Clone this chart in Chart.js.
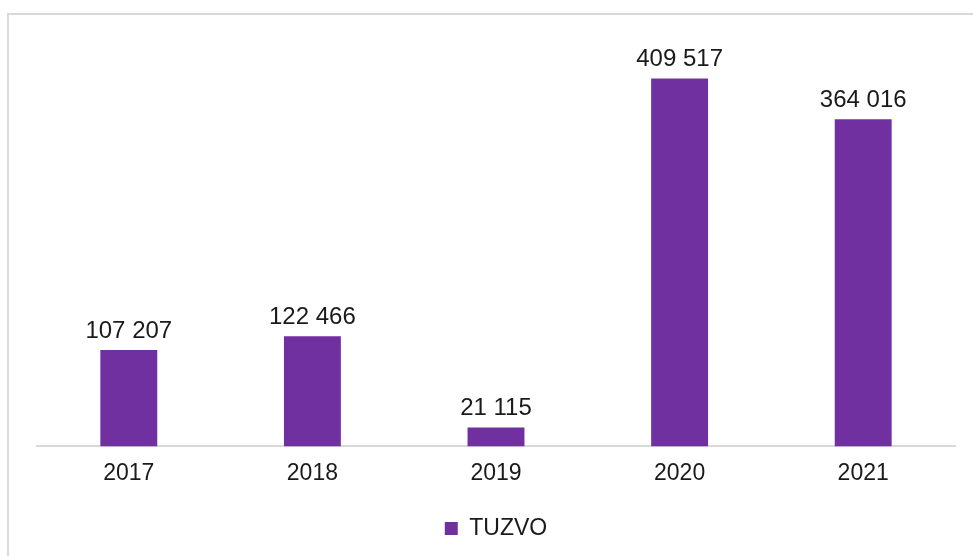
<!DOCTYPE html>
<html>
<head>
<meta charset="utf-8">
<script src="https://cdn.jsdelivr.net/npm/chart.js@4/dist/chart.umd.min.js"></script>
<style>
  html, body { margin: 0; padding: 0; background: #fff; overflow: hidden; }
  #frame { position: absolute; left: 7px; top: 13px; width: 1200px; height: 800px;
           border-left: 2px solid #d9d9d9; border-top: 2px solid #d9d9d9; }
  #wrap { position: absolute; left: 0; top: 0; width: 973px; height: 556px; }
</style>
</head>
<body>
<div id="frame"></div>
<div id="wrap"><canvas id="c" width="973" height="556"></canvas></div>
<script>
const categories = ["2017", "2018", "2019", "2020", "2021"];
const seriesName = "TUZVO";
const values = [107207, 122466, 21115, 409517, 364016];

function fmt(v) {
  return String(v).replace(/\B(?=(\d{3})+(?!\d))/g, " ");
}

const valueLabels = {
  id: "valueLabels",
  afterDatasetsDraw(chart) {
    const ctx = chart.ctx;
    const meta = chart.getDatasetMeta(0);
    ctx.save();
    ctx.font = "24px 'Liberation Sans', Arial, sans-serif";
    ctx.fillStyle = "#1a1a1a";
    ctx.textAlign = "center";
    ctx.textBaseline = "alphabetic";
    meta.data.forEach((bar, i) => {
      ctx.fillText(fmt(chart.data.datasets[0].data[i]), bar.x, bar.y - 12);
    });
    ctx.restore();
  }
};

new Chart(document.getElementById("c"), {
  type: "bar",
  data: {
    labels: categories,
    datasets: [{
      label: seriesName,
      data: values,
      backgroundColor: "#7030A0",
      borderWidth: 0,
      barPercentage: 0.31,
      categoryPercentage: 1.0
    }]
  },
  options: {
    responsive: false,
    animation: false,
    layout: { padding: { left: 37, right: 18, top: 42, bottom: 6 } },
    plugins: {
      tooltip: { enabled: false },
      legend: {
        display: true,
        position: "bottom",
        labels: {
          boxWidth: 13,
          boxHeight: 13,
          padding: 17,
          color: "#1a1a1a",
          font: { size: 23, family: "'Liberation Sans', Arial, sans-serif" }
        }
      }
    },
    scales: {
      x: {
        grid: { display: false, drawTicks: false },
        border: { display: true, color: "#d9d9d9", width: 2 },
        ticks: {
          padding: 13,
          color: "#1a1a1a",
          font: { size: 23, family: "'Liberation Sans', Arial, sans-serif" }
        }
      },
      y: {
        display: false,
        min: 0,
        max: 450000
      }
    }
  },
  plugins: [valueLabels]
});
</script>
</body>
</html>
